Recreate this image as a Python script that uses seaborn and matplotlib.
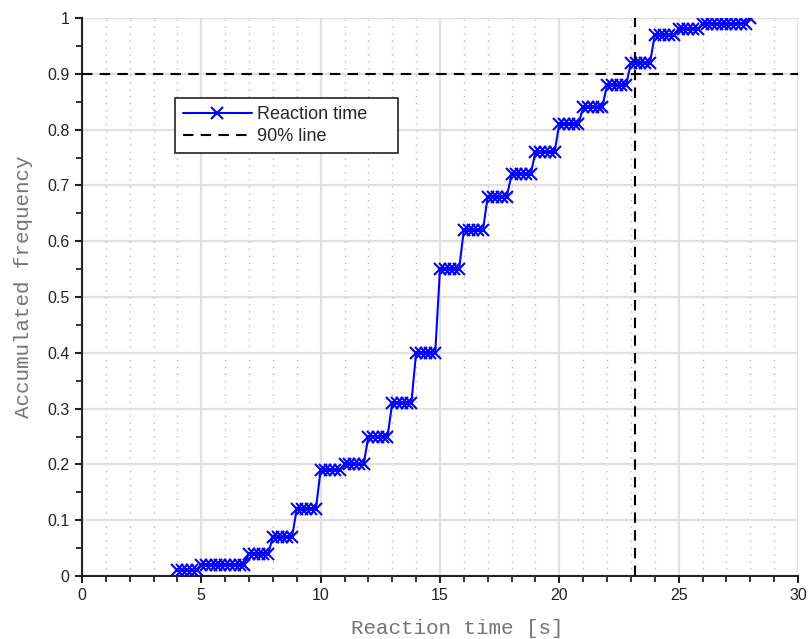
"""Accumulated frequency of reaction times with a 90% reference line."""

import matplotlib
matplotlib.use("Agg")
import matplotlib.pyplot as plt
from matplotlib.ticker import MultipleLocator, FormatStrFormatter
import seaborn as sns
import pandas as pd

# sampled reaction times [s] and accumulated frequency at each sample
reaction_time = [
    4.0, 4.2, 4.4, 4.6, 4.8,
    5.0, 5.2, 5.4, 5.6, 5.8,
    6.0, 6.2, 6.4, 6.6, 6.8,
    7.0, 7.2, 7.4, 7.6, 7.8,
    8.0, 8.2, 8.4, 8.6, 8.8,
    9.0, 9.2, 9.4, 9.6, 9.8,
    10.0, 10.2, 10.4, 10.6, 10.8,
    11.0, 11.2, 11.4, 11.6, 11.8,
    12.0, 12.2, 12.4, 12.6, 12.8,
    13.0, 13.2, 13.4, 13.6, 13.8,
    14.0, 14.2, 14.4, 14.6, 14.8,
    15.0, 15.2, 15.4, 15.6, 15.8,
    16.0, 16.2, 16.4, 16.6, 16.8,
    17.0, 17.2, 17.4, 17.6, 17.8,
    18.0, 18.2, 18.4, 18.6, 18.8,
    19.0, 19.2, 19.4, 19.6, 19.8,
    20.0, 20.2, 20.4, 20.6, 20.8,
    21.0, 21.2, 21.4, 21.6, 21.8,
    22.0, 22.2, 22.4, 22.6, 22.8,
    23.0, 23.2, 23.4, 23.6, 23.8,
    24.0, 24.2, 24.4, 24.6, 24.8,
    25.0, 25.2, 25.4, 25.6, 25.8,
    26.0, 26.2, 26.4, 26.6, 26.8,
    27.0, 27.2, 27.4, 27.6, 27.8,
    28.0,
]
accumulated = [
    0.01, 0.01, 0.01, 0.01, 0.01,
    0.02, 0.02, 0.02, 0.02, 0.02,
    0.02, 0.02, 0.02, 0.02, 0.02,
    0.04, 0.04, 0.04, 0.04, 0.04,
    0.07, 0.07, 0.07, 0.07, 0.07,
    0.12, 0.12, 0.12, 0.12, 0.12,
    0.19, 0.19, 0.19, 0.19, 0.19,
    0.20, 0.20, 0.20, 0.20, 0.20,
    0.25, 0.25, 0.25, 0.25, 0.25,
    0.31, 0.31, 0.31, 0.31, 0.31,
    0.40, 0.40, 0.40, 0.40, 0.40,
    0.55, 0.55, 0.55, 0.55, 0.55,
    0.62, 0.62, 0.62, 0.62, 0.62,
    0.68, 0.68, 0.68, 0.68, 0.68,
    0.72, 0.72, 0.72, 0.72, 0.72,
    0.76, 0.76, 0.76, 0.76, 0.76,
    0.81, 0.81, 0.81, 0.81, 0.81,
    0.84, 0.84, 0.84, 0.84, 0.84,
    0.88, 0.88, 0.88, 0.88, 0.88,
    0.92, 0.92, 0.92, 0.92, 0.92,
    0.97, 0.97, 0.97, 0.97, 0.97,
    0.98, 0.98, 0.98, 0.98, 0.98,
    0.99, 0.99, 0.99, 0.99, 0.99,
    0.99, 0.99, 0.99, 0.99, 0.99,
    1.00,
]
LEVEL_90 = 0.9
TIME_90 = 23.15

df = pd.DataFrame({"time": reaction_time, "freq": accumulated})

sns.set_theme(style="whitegrid")
plt.rcParams["font.family"] = ["Liberation Sans", "DejaVu Sans"]

fig = plt.figure(figsize=(8.1, 6.39), dpi=100)
ax = fig.add_axes([0.1012, 0.0986, 0.884, 0.8732])

sns.lineplot(data=df, x="time", y="freq", color="#0000ff", linewidth=1.5,
             marker="x", markersize=8.5, markeredgewidth=1.5,
             markeredgecolor="#0000ff", markerfacecolor="#0000ff",
             label="Reaction time", ax=ax, zorder=3)
ax.axhline(LEVEL_90, color="black", linestyle=(0, (5, 3.5)), linewidth=1.5,
           label="90% line", zorder=4)
ax.axvline(TIME_90, color="black", linestyle=(0, (5, 3.5)), linewidth=1.5, zorder=4)

ax.set_xlim(0, 30)
ax.set_ylim(0, 1)
ax.xaxis.set_major_locator(MultipleLocator(5))
ax.xaxis.set_minor_locator(MultipleLocator(1))
ax.yaxis.set_major_locator(MultipleLocator(0.1))
ax.yaxis.set_minor_locator(MultipleLocator(0.05))
ax.yaxis.set_major_formatter(FormatStrFormatter("%g"))

ax.grid(which="major", color="#e0e0e0", linewidth=1.6, linestyle="-")
ax.grid(which="minor", axis="x", color="#b8b8b8", linewidth=1.0, linestyle=(0, (1, 4)))
ax.grid(which="minor", axis="y", visible=False)

for side in ["top", "right"]:
    ax.spines[side].set_visible(False)
for side in ["left", "bottom"]:
    ax.spines[side].set_color("#222222")
    ax.spines[side].set_linewidth(1.5)

ax.tick_params(which="major", direction="out", length=5, width=1.5,
               color="#222222", labelsize=11.5, labelcolor="#222222",
               bottom=True, left=True, pad=4)
ax.tick_params(which="minor", direction="out", length=4, width=1.3,
               color="#222222", bottom=True, left=True)

label_font = dict(family="Liberation Mono", size=15, color="#747474")
ax.set_xlabel("Reaction time [s]", **label_font)
ax.set_ylabel("Accumulated frequency", **label_font)
ax.xaxis.set_label_coords(0.524, -0.077)
ax.yaxis.set_label_coords(-0.068, 0.518)

leg = ax.legend(loc="upper left", bbox_to_anchor=(0.1299, 0.5, 0.3115, 0.357),
                mode="expand", fontsize=13, fancybox=False, framealpha=1,
                edgecolor="#222222", handlelength=3.8, borderpad=0.45,
                labelspacing=0.3, handletextpad=0.3, borderaxespad=0)
leg.get_frame().set_linewidth(1.2)

fig.savefig("out.png", dpi=100)
